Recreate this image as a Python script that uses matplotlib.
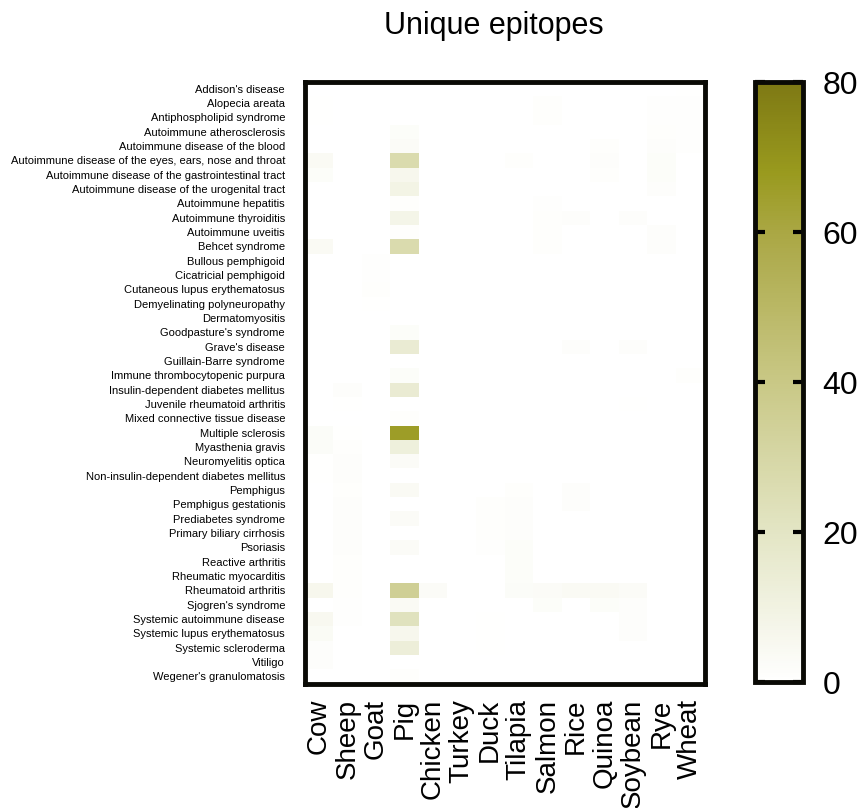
import numpy as np
import matplotlib
matplotlib.use("Agg")
import matplotlib.pyplot as plt
from matplotlib.colors import LinearSegmentedColormap

plt.rcParams['font.family'] = ['Liberation Sans', 'DejaVu Sans']

diseases = ["Addison's disease", "Alopecia areata", "Antiphospholipid syndrome",
            "Autoimmune atherosclerosis", "Autoimmune disease of the blood",
            "Autoimmune disease of the eyes, ears, nose and throat",
            "Autoimmune disease of the gastrointestinal tract",
            "Autoimmune disease of the urogenital tract", "Autoimmune hepatitis",
            "Autoimmune thyroiditis", "Autoimmune uveitis", "Behcet syndrome",
            "Bullous pemphigoid", "Cicatricial pemphigoid", "Cutaneous lupus erythematosus",
            "Demyelinating polyneuropathy", "Dermatomyositis", "Goodpasture's syndrome",
            "Grave's disease", "Guillain-Barre syndrome", "Immune thrombocytopenic purpura",
            "Insulin-dependent diabetes mellitus", "Juvenile rheumatoid arthritis",
            "Mixed connective tissue disease", "Multiple sclerosis", "Myasthenia gravis",
            "Neuromyelitis optica", "Non-insulin-dependent diabetes mellitus", "Pemphigus",
            "Pemphigus gestationis", "Prediabetes syndrome", "Primary biliary cirrhosis",
            "Psoriasis", "Reactive arthritis", "Rheumatic myocarditis", "Rheumatoid arthritis",
            "Sjogren's syndrome", "Systemic autoimmune disease", "Systemic lupus erythematosus",
            "Systemic scleroderma", "Vitiligo", "Wegener's granulomatosis"]

species = ["Cow", "Sheep", "Goat", "Pig", "Chicken", "Turkey", "Duck", "Tilapia",
           "Salmon", "Rice", "Quinoa", "Soybean", "Rye", "Wheat"]

# values per species (one per disease, in order above)
cow = [0, 0.5, 0.5, 0, 0, 4, 2, 0, 0, 0, 0.3, 4, 0, 0, 0, 0, 0, 0, 0, 0, 0, 0, 0, 0,
       2.5, 2.5, 0.5, 0.5, 0, 0, 0, 0, 0, 0, 0, 6, 0, 5, 3.5, 1.5, 1.5, 0.3]
sheep = [0, 0, 0, 0, 0, 0, 0, 0, 0, 0, 0, 0, 0, 0, 0, 0, 0, 0, 0, 0, 0, 1.5, 0.5, 0,
         0.5, 1, 1.5, 1.5, 1.2, 1.5, 1.5, 1.5, 1.5, 1, 1, 1, 0.8, 0.8, 0, 0, 0, 0]
goat = [0, 0, 0, 0, 0, 0, 0.3, 0.3, 0.3, 0, 0, 0, 0.8, 0.8, 1, 0.5, 0, 0, 0, 0, 0, 0,
        0, 0, 0, 0, 0, 0, 0, 0, 0, 0, 0, 0, 0, 0, 0, 0, 0, 0, 0, 0.3]
pig = [0.3, 0, 0, 2, 3, 27, 6, 9, 1, 8, 1, 27, 0.3, 0, 0, 0, 0, 2, 15, 0, 2, 15, 0.3, 1,
       66, 12, 3, 0, 4, 0, 3, 0, 3, 0, 0, 35, 4, 22, 6, 13, 0, 1]
chicken = [0, 0, 0, 0, 0, 0, 0, 0, 0, 0, 0, 0, 0, 0, 0, 0, 0, 0, 0, 0, 0.3, 0.3, 0.3, 0,
           0, 0, 0, 0, 0, 0, 0, 0, 0, 0, 0, 3, 0, 0, 0, 0, 0, 0]
turkey = [0, 0, 0, 0, 0, 0, 0, 0, 0, 0, 0, 0, 0, 0, 0, 0, 0, 0, 0, 0, 0, 0, 0, 0,
          0, 0, 0, 0, 0, 0, 0, 0, 0, 0, 0, 0, 0, 0, 0, 0, 0, 0]
duck = [0, 0, 0, 0, 0, 0, 0, 0, 0, 0, 0, 0, 0, 0, 0, 0, 0, 0, 0, 0, 0, 0, 0, 0,
        0, 0, 0, 0, 0, 1, 1.2, 1, 0.8, 0, 0, 0, 0, 0.6, 0.6, 0.6, 0, 0]
tilapia = [0, 0, 0, 0, 0, 1, 0, 0, 0, 0, 0, 0, 0, 0, 0, 0, 0, 0, 0, 0, 0, 0, 0, 0,
           0, 0, 0, 0, 1, 1.5, 1.5, 1.5, 2, 2, 2, 2.5, 0, 0, 0, 0, 0, 0]
salmon = [0, 1, 1, 0, 0, 0, 0, 0, 0.8, 1, 1, 1, 0, 0, 0, 0, 0, 0, 0, 0, 0, 0, 0, 0,
          0, 0, 0, 0, 0, 0, 0, 0, 0, 0, 0, 3, 2, 0, 0, 0, 0, 0]
rice = [0, 0, 0, 0, 0, 0, 0, 0, 0, 1.5, 0, 0, 0, 0, 0, 0, 0, 0, 1.5, 0, 0, 0, 0, 0,
        0, 0, 0, 0, 1.5, 1.5, 0, 0, 0, 0, 0, 4, 0, 0.3, 0.3, 0, 0, 0]
quinoa = [0, 0, 0, 0, 1, 1.5, 1, 0, 0, 0, 0, 0, 0, 0, 0, 0, 0, 0, 0, 0, 0, 0, 0, 0,
          0, 0, 0, 0, 0, 0, 0, 0, 0, 0, 0, 4, 2, 0, 0, 0, 0, 0]
soybean = [0, 0, 0, 0, 0, 0, 0, 0, 0, 1.5, 0, 0, 0, 0, 0, 0, 0, 0, 1.5, 0, 0, 0, 0.5, 0,
           0, 0, 0, 0, 0, 0, 0, 0, 0, 0, 0, 3, 1.5, 1.5, 1.5, 0, 0, 0]
rye = [0, 0.8, 0.8, 1, 1.5, 2, 2, 1.5, 0, 0, 1.5, 1.5, 0, 0, 0, 0, 0, 0, 0, 0, 0.3, 0.3,
       0.3, 0.3, 0.3, 0.3, 0, 0, 0, 0, 0, 0, 0, 0, 0, 0, 0, 0, 0, 0, 0, 0]
wheat = [0.5, 0.8, 0.8, 0.8, 0.8, 0, 0, 0, 0, 0, 0, 0, 0, 0, 0, 0, 0, 0, 0, 0, 1, 0,
         0, 0, 0, 0, 0, 0, 0, 0, 0, 0, 0, 0, 0, 0, 0, 0, 0, 0, 0, 0]

cbar_ticks = [0, 20, 40, 60, 80]

data = np.array([cow, sheep, goat, pig, chicken, turkey, duck, tilapia,
                 salmon, rice, quinoa, soybean, rye, wheat]).T

cmap = LinearSegmentedColormap.from_list(
    "olive", [(0.0, "#ffffff"), (0.25, "#e3e5c4"), (0.5, "#c9c886"),
              (0.75, "#aaa744"), (0.85, "#999a1e"), (1.0, "#7e7914")])

fig = plt.figure(figsize=(8.6, 8.08), dpi=100)
W, H = 860, 808
ax = fig.add_axes([304.5 / W, 1 - 683.5 / H, 400 / W, 602 / H])
mesh = ax.pcolormesh(np.arange(len(species) + 1), np.arange(len(diseases) + 1), data,
                     cmap=cmap, vmin=0, vmax=80)
ax.set_xlim(0, len(species))
ax.set_ylim(len(diseases), 0)
ax.set_xticks(np.arange(len(species)) + 0.5)
ax.set_xticklabels(species, rotation=90, fontsize=20)
ax.set_yticks(np.arange(len(diseases)) + 0.5)
ax.set_yticklabels(diseases, fontsize=8)
ax.tick_params(axis='both', length=0)
ax.tick_params(axis='y', pad=14)
ax.tick_params(axis='x', pad=11)
for s in ax.spines.values():
    s.set_linewidth(3.5)
    s.set_color('#0a0a05')
fig.text(493.5 / W, 1 - 26 / H, "Unique epitopes", fontsize=22, ha='center', va='center')

cax = fig.add_axes([755 / W, 1 - 682 / H, 48 / W, 600 / H])
cb = fig.colorbar(mesh, cax=cax, ticks=cbar_ticks)
cb.outline.set_linewidth(3.5)
cb.outline.set_edgecolor('#0a0a05')
cax.tick_params(axis='y', direction='in', length=7, width=3, labelsize=23, pad=14,
                left=True, right=True)
fig.savefig("out.png", dpi=100)
